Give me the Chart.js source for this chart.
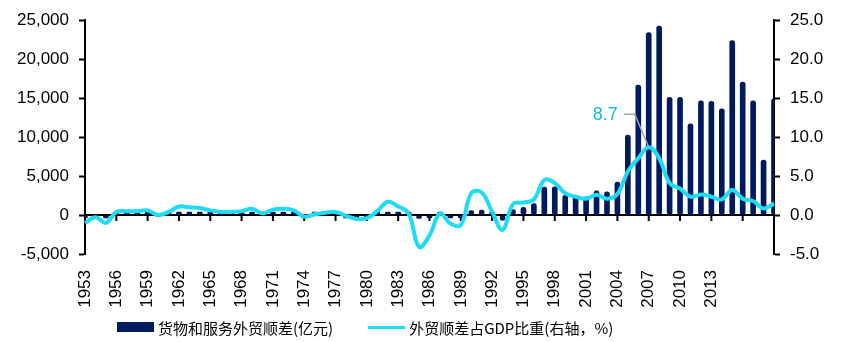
<!DOCTYPE html>
<html>
<head>
<meta charset="utf-8">
<script src="https://cdn.jsdelivr.net/npm/chart.js@4"></script>
<style>
  html, body { margin: 0; padding: 0; background: #fff; }
  #wrap { position: relative; width: 846px; height: 342px; }
  #legend {
    position: absolute; left: 117px; top: 317px; height: 20px;
    display: flex; align-items: center;
    font-family: "Noto Sans CJK SC", "Liberation Sans", sans-serif; font-size: 15px; color: #000;
  }
  .sw-bar { width: 37px; height: 10px; background: #001a5e; margin-right: 4px; }
  .sw-line { width: 37px; height: 3px; background: #1edcf5; margin-right: 4px; margin-left: 35px; }
</style>
</head>
<body>
<div id="wrap">
  <canvas id="myChart" width="846" height="342"></canvas>
  <div id="legend">
    <span class="sw-bar"></span><span>货物和服务外贸顺差(亿元)</span>
    <span class="sw-line"></span><span>外贸顺差占GDP比重(右轴，%)</span>
  </div>
</div>
<script>
const years = [
  '1953','1954','1955','1956','1957','1958','1959','1960','1961','1962',
  '1963','1964','1965','1966','1967','1968','1969','1970','1971','1972',
  '1973','1974','1975','1976','1977','1978','1979','1980','1981','1982',
  '1983','1984','1985','1986','1987','1988','1989','1990','1991','1992',
  '1993','1994','1995','1996','1997','1998','1999','2000','2001','2002',
  '2003','2004','2005','2006','2007','2008','2009','2010','2011','2012',
  '2013','2014','2015','2016','2017','2018','2019'
];

// 横轴上显示的年份
const shownYears = [
  '1953','1956','1959','1962','1965','1968','1971','1974','1977','1980',
  '1983','1986','1989','1992','1995','1998','2001','2004','2007','2010','2013'
];

// 货物和服务外贸顺差 (亿元)
const surplus = [
  -8, -3, -9, 4, 5, 6, 8, 0, 5, 13,
  12, 13, 10, 7, 7, 9, 13, 4, 15, 18,
  14, -5, 3, 9, 13, -4, -20, -19, 150, 300,
  350, 200, -420, -300, 100, -300, -200, 560, 620, 300,
  -680, 700, 1000, 1460, 3600, 3630, 2540, 2390, 2330, 3100,
  2990, 4240, 10250, 16660, 23420, 24230, 15100, 15100, 11690, 14640,
  14600, 13620, 22400, 17050, 14650, 7060, 14900
];

// 外贸顺差占GDP比重 (%)
const ratio = [
  -1.0, -0.3, -1.0, 0.4, 0.5, 0.5, 0.6, 0.0, 0.4, 1.1,
  1.0, 0.9, 0.6, 0.4, 0.4, 0.5, 0.8, 0.2, 0.7, 0.8,
  0.6, -0.2, 0.1, 0.3, 0.4, -0.1, -0.5, -0.4, 0.5, 1.7,
  1.1, 0.2, -4.1, -2.6, 0.2, -1.1, -1.3, 2.8, 2.9, 0.4,
  -1.9, 1.4, 1.6, 2.0, 4.5, 4.1, 2.8, 2.35, 2.1, 2.6,
  2.1, 2.7, 5.6, 7.3, 8.7, 7.3, 4.1, 3.4, 2.35, 2.65,
  2.35, 2.0, 3.2, 2.1, 1.8, 0.85, 1.5
];

const leftTicks = { min: -5000, max: 25000, step: 5000 };
const rightTicks = { min: -5, max: 25, step: 5 };
const peakLabel = '8.7';

const tickFont = { family: "'Liberation Sans', Arial, sans-serif", size: 17 };

// 零线、横轴刻度与峰值标注
const extras = {
  id: 'extras',
  beforeDatasetsDraw(chart) {
    const { ctx, chartArea, scales } = chart;
    const y0 = scales.y.getPixelForValue(0);
    ctx.save();
    ctx.strokeStyle = '#000';
    ctx.lineWidth = 2;
    ctx.beginPath();
    ctx.moveTo(chartArea.left, y0);
    ctx.lineTo(chartArea.right, y0);
    for (let i = 3; i < years.length - 1; i += 3) {
      const x = scales.x.getPixelForValue(i);
      ctx.moveTo(x, y0);
      ctx.lineTo(x, y0 + 6);
    }
    ctx.stroke();
    ctx.restore();
  },
  afterDatasetsDraw(chart) {
    const { ctx, scales } = chart;
    let k = 0;
    ratio.forEach((v, i) => { if (v > ratio[k]) k = i; });
    const px = scales.x.getPixelForValue(k);
    const py = scales.y1.getPixelForValue(ratio[k]);
    ctx.save();
    ctx.strokeStyle = '#a6a6a6';
    ctx.lineWidth = 1.5;
    ctx.beginPath();
    ctx.moveTo(px, py);
    ctx.lineTo(px - 14, py - 33);
    ctx.lineTo(px - 25, py - 33);
    ctx.stroke();
    ctx.fillStyle = '#1fb4ea';
    ctx.font = "18px 'Liberation Sans', Arial, sans-serif";
    ctx.textAlign = 'right';
    ctx.textBaseline = 'middle';
    ctx.fillText(peakLabel, px - 31, py - 32);
    ctx.restore();
  }
};

new Chart(document.getElementById('myChart').getContext('2d'), {
  data: {
    labels: years,
    datasets: [
      {
        type: 'line',
        label: '外贸顺差占GDP比重(右轴，%)',
        data: ratio,
        yAxisID: 'y1',
        borderColor: '#1edcf5',
        borderWidth: 4,
        pointRadius: 0,
        tension: 0.4,
        order: 0
      },
      {
        type: 'bar',
        label: '货物和服务外贸顺差(亿元)',
        data: surplus,
        yAxisID: 'y',
        backgroundColor: '#001a5e',
        barThickness: 5,
        minBarLength: 3,
        borderRadius: 2.5,
        borderSkipped: false,
        order: 1
      }
    ]
  },
  options: {
    responsive: false,
    animation: false,
    layout: { padding: { top: 20, right: 0, bottom: 0, left: 0 } },
    plugins: { legend: { display: false }, tooltip: { enabled: false } },
    scales: {
      x: {
        type: 'category',
        offset: false,
        grid: { display: false },
        border: { display: false },
        afterFit(scale) { scale.height = 88; },
        ticks: {
          autoSkip: false,
          minRotation: 90,
          maxRotation: 90,
          padding: 8,
          color: '#000',
          font: tickFont,
          callback(v, i) { return shownYears.includes(years[i]) ? years[i] : ''; }
        }
      },
      y: {
        position: 'left',
        min: leftTicks.min,
        max: leftTicks.max,
        afterFit(scale) { scale.width = 85; },
        border: { display: true, color: '#000', width: 2 },
        grid: { drawOnChartArea: false, tickLength: 6, tickColor: '#000', tickWidth: 2 },
        ticks: {
          stepSize: leftTicks.step,
          padding: 10,
          color: '#000',
          font: tickFont,
          callback(v) { return v.toLocaleString('en-US'); }
        }
      },
      y1: {
        position: 'right',
        min: rightTicks.min,
        max: rightTicks.max,
        afterFit(scale) { scale.width = 72; },
        border: { display: true, color: '#000', width: 2 },
        grid: { drawOnChartArea: false, tickLength: 6, tickColor: '#000', tickWidth: 2 },
        ticks: {
          stepSize: rightTicks.step,
          padding: 10,
          color: '#000',
          font: tickFont,
          callback(v) { return v.toFixed(1); }
        }
      }
    }
  },
  plugins: [extras]
});
</script>
</body>
</html>
